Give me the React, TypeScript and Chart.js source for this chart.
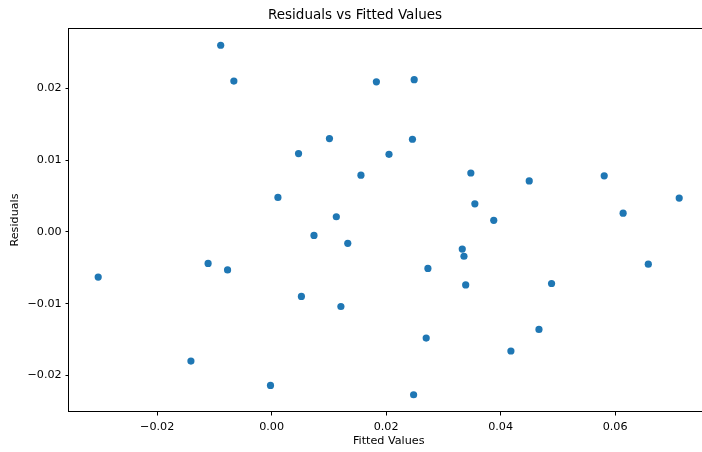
import React, { useEffect, useRef } from "react";
import { Chart, registerables } from "chart.js";

Chart.register(...registerables);

const fittedValues = [
  -0.0303, -0.0141, -0.0111, -0.0077, -0.0089, -0.0066, -0.0002, 0.0011, 0.0047,
  0.0052, 0.0074, 0.0101, 0.0113, 0.0121, 0.0133, 0.0156, 0.0183, 0.0205, 0.0246,
  0.0249, 0.0248, 0.027, 0.0273, 0.0333, 0.0336, 0.0339, 0.0348, 0.0355, 0.0388,
  0.0418, 0.045, 0.0467, 0.0489, 0.0581, 0.0614, 0.0658, 0.0712,
];
const residuals = [
  -0.0063, -0.018, -0.0044, -0.0053, 0.026, 0.021, -0.0214, 0.0048, 0.0109,
  -0.009, -0.0005, 0.013, 0.0021, -0.0104, -0.0016, 0.0079, 0.0209, 0.0108, 0.0129,
  0.0212, -0.0227, -0.0148, -0.0051, -0.0024, -0.0034, -0.0074, 0.0082, 0.0039, 0.0016,
  -0.0166, 0.0071, -0.0136, -0.0072, 0.0078, 0.0026, -0.0045, 0.0047,
];
const xTickValues = [-0.02, 0.0, 0.02, 0.04, 0.06];
const yTickValues = [-0.02, -0.01, 0.0, 0.01, 0.02];

const FONT = "'DejaVu Sans', sans-serif";
const fmt = (v: number) => (v < 0 ? "\u2212" : "") + Math.abs(v).toFixed(2);

const framePlugin = {
  id: "frame",
  afterDatasetsDraw(chart: any) {
    const { ctx, chartArea } = chart;
    ctx.save();
    ctx.strokeStyle = "#000";
    ctx.lineWidth = 1;
    ctx.strokeRect(
      Math.round(chartArea.left) - 0.5,
      Math.round(chartArea.top) + 0.5,
      Math.round(chartArea.right - chartArea.left) + 1,
      Math.round(chartArea.bottom - chartArea.top) - 1
    );
    ctx.restore();
  },
};

export default function App() {
  const ref = useRef<HTMLCanvasElement | null>(null);
  useEffect(() => {
    if (!ref.current) return;
    const data = fittedValues.map((x, i) => ({ x, y: residuals[i] }));
    const chart = new Chart(ref.current, {
      type: "scatter",
      data: {
        datasets: [
          {
            data,
            backgroundColor: "#1f77b4",
            borderColor: "#1f77b4",
            borderWidth: 0,
            pointRadius: 3.6,
            pointHoverRadius: 3.6,
          },
        ],
      },
      options: {
        responsive: false,
        animation: false,
        devicePixelRatio: 1,
        layout: { padding: { left: 0, right: 2, top: 0, bottom: 0 } },
        plugins: {
          legend: { display: false },
          tooltip: { enabled: false },
          title: {
            display: true,
            text: "Residuals vs Fitted Values",
            color: "#000",
            font: { family: FONT, size: 13.5, weight: "normal", lineHeight: 1 },
            padding: { top: 8.25, bottom: 6.25 },
          },
        },
        scales: {
          x: {
            type: "linear",
            min: -0.0354,
            max: 0.0763,
            afterFit: (s: any) => {
              s.height = 40;
            },
            afterBuildTicks: (s: any) => {
              s.ticks = xTickValues.map((value) => ({ value }));
            },
            grid: { drawOnChartArea: false, drawTicks: true, tickLength: 3.5, color: "#000", lineWidth: 1 },
            border: { display: false },
            ticks: {
              color: "#000",
              font: { family: FONT, size: 11.2 },
              padding: 4.5,
              maxRotation: 0,
              autoSkip: false,
              callback: (v: any) => fmt(Number(v)),
            },
            title: {
              display: true,
              text: "Fitted Values",
              color: "#000",
              font: { family: FONT, size: 11.2, lineHeight: 1 },
              padding: { top: 0, bottom: 5.4 },
            },
          },
          y: {
            type: "linear",
            min: -0.0251,
            max: 0.0284,
            afterFit: (s: any) => {
              s.width = 69;
            },
            afterBuildTicks: (s: any) => {
              s.ticks = yTickValues.map((value) => ({ value }));
            },
            grid: { drawOnChartArea: false, drawTicks: true, tickLength: 3.5, color: "#000", lineWidth: 1 },
            border: { display: false },
            ticks: {
              color: "#000",
              font: { family: FONT, size: 11.2 },
              padding: 3.8,
              autoSkip: false,
              callback: (v: any) => fmt(Number(v)),
            },
            title: {
              display: true,
              text: "Residuals",
              color: "#000",
              font: { family: FONT, size: 11.2, lineHeight: 1 },
              padding: { top: 9.4, bottom: 0 },
            },
          },
        },
      },
      plugins: [framePlugin],
    });
    return () => chart.destroy();
  }, []);

  return (
    <div
      style={{
        position: "absolute",
        left: 0,
        top: 0,
        width: 702,
        height: 452,
        overflow: "hidden",
        background: "#fff",
      }}
    >
      <canvas ref={ref} width={712} height={452} style={{ width: 712, height: 452, display: "block" }} />
    </div>
  );
}
